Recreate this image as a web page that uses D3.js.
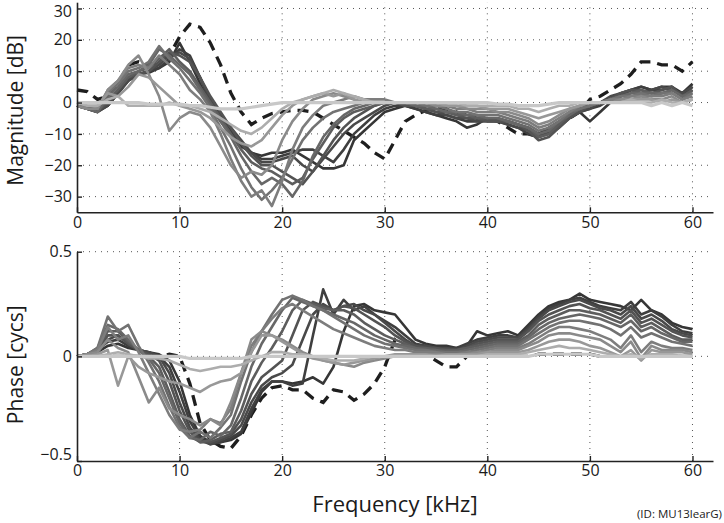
<!DOCTYPE html>
<html><head><meta charset="utf-8">
<script src="https://cdn.jsdelivr.net/npm/d3@7"></script>
<style>
body{margin:0;background:#fff;}
svg{display:block;}
text{font-family:"Open Sans",sans-serif;fill:#1a1a1a;}
</style>
</head><body>
<svg id="c" width="724" height="523"></svg>
<script>
// ---------- DATA ----------
const freqKHz = [0,1,2,3,4,5,6,7,8,9,10,11,12,13,14,15,16,17,18,19,20,21,22,23,24,25,26,27,28,29,30,
  31,32,33,34,35,36,37,38,39,40,41,42,43,44,45,46,47,48,49,50,51,52,53,54,55,56,57,58,59,60];
const freqTicks = [0,10,20,30,40,50,60];
const magTicks = [-30,-20,-10,0,10,20,30];
const phaseTicks = [-0.5,0,0.5];

// Magnitude [dB], gray family from darkest to lightest
const magGray = [
 [-1,-1.5,-2.5,-1,3,7,9,9.5,11,13,19, 13,6,-1,-6,-10,-14,-16,-17,-16,-16, -15,-17,-19,-21,-21,-20,-12,-9,-6,-3, -2,-1,-2,-3,-4,-5,-6,-8,-7,-5, -5,-6,-7,-8,-10,-8,-6,-4,-3,-6, -3,0,2,4,5,4,5,5,3,6],
 [-1,-2,-3,-1,3,7,9,10,11,14,17, 15,8,0,-5,-9,-13,-16,-18,-18,-17, -16,-15,-15,-17,-19,-15,-10,-7,-4,-2, -1,-1,-2,-3,-4,-4,-5,-6,-6,-5, -6,-7,-8,-10,-11,-9,-7,-5,-3,-2, -1,1,3,4,5,4,4,5,2,5],
 [-1,-2,-3,-1,3,7,9,10,12,15,16, 14,8,1,-4,-8,-12,-16,-19,-19,-18, -17,-20,-22,-18,-14,-10,-7,-5,-3,-1, 0,-1,-1,-2,-3,-4,-5,-5,-6,-6, -6,-7,-8,-9,-11,-10,-8,-5,-3,-2, 0,2,3,4,3,4,5,4,3,5],
 [-1,-2,-3,0,4,8,9,10,13,16,15, 13,8,2,-3,-8,-13,-17,-20,-20,-22, -24,-26,-22,-17,-12,-8,-5,-3,-1,0, 0,-1,-1,-2,-3,-3,-4,-5,-5,-6, -6,-6,-7,-9,-12,-11,-8,-5,-3,-1, 0,1,3,4,4,3,4,5,2,4],
 [-1,-2,-3,1,4,8,10,11,14,17,13, 10,5,0,-5,-10,-15,-19,-21,-22,-24, -26,-24,-18,-13,-8,-5,-3,-2,-1,0, 0,0,-1,-2,-2,-3,-4,-4,-5,-5, -5,-6,-7,-8,-11,-10,-7,-4,-2,-1, 0,1,2,3,4,3,3,4,2,4],
 [-1,-2,-3,2,5,9,10,12,17,15,12, 9,4,-1,-6,-11,-17,-22,-26,-24,-26, -30,-25,-17,-11,-7,-4,-2,-1,0,0, 0,0,-1,-1,-2,-3,-3,-4,-4,-5, -5,-6,-7,-8,-10,-9,-6,-4,-2,-1, 0,1,2,3,3,3,3,4,2,3],
 [-1,-2,-2,3,6,10,11,13,18,14,11, 7,3,-2,-8,-14,-21,-27,-31,-28,-24, -18,-12,-8,-5,-3,-2,-1,0,0,0, 0,0,0,-1,-1,-2,-3,-3,-4,-4, -4,-5,-6,-7,-9,-8,-6,-3,-2,-1, 0,1,2,2,3,2,3,3,1,3],
 [-1,-2,-2,4,7,11,12,11,15,12,9, 4,1,-3,-10,-18,-25,-30,-28,-33,-25, -15,-8,-4,-1,0,1,2,1,1,1, 0,0,0,0,-1,-1,-2,-2,-3,-3, -3,-4,-5,-6,-8,-7,-5,-3,-1,0, 0,1,1,2,2,2,2,3,1,2],
 [-1,-2,-2,4,7,12,15,9,2,-9,-5, -3,-4,-8,-14,-20,-24,-22,-23,-20,-12, -6,-2,1,2,3,2,1,0,0,0, 0,0,0,0,-1,-1,-1,-2,-2,-2, -3,-3,-4,-5,-7,-6,-4,-2,-1,0, 0,0,1,1,2,1,1,2,0,1],
 [0,-1,-1,3,2,5,9,8,5,2,-1, -2,-3,-5,-8,-11,-13,-14,-12,-8,-4, -1,1,2,3,2,3,1,0,0,0, 0,0,0,0,0,-1,-1,-1,-1,-2, -2,-2,-3,-4,-5,-4,-3,-2,-1,0, 0,0,0,1,1,1,0,1,0,1],
 [0,-1,-1,1,2,-1,-1,-1,-1,0,-1, -1,-2,-3,-5,-7,-9,-10,-8,-5,-2, 0,1,2,3,4,3,2,1,0,0, 0,0,0,0,0,0,0,-1,-1,-1, -1,-1,-2,-2,-3,-2,-1,-1,0,0, 0,0,0,1,0,0,1,0,0,1],
 [0,0,0,0,0,0,0,-0.5,-0.5,-0.5,-0.5, -1,-1,-1.5,-2,-2,-2,-1.5,-1,-0.5,0, 0,0,0,0,0,0,0,0,0,0, 0,0,0,0,0,0,0,0,0,0, -0.5,-0.5,-1,-1,-1,-0.5,0,0,0,0, 0,0,0,0,0,-1,0,-1,0,-1]
];
const magDashed = [4,3.5,1,2,6,12,13,12,13,15,21, 25,24,19,12,3,-3,-7,-5,-3.5,-3, -2.5,-2.5,-3,-5,-7,-9,-11,-13,-16,-18, -12,-6,-4,-2.5,-2,-2,-3,-4,-5,-5, -6,-8,-10,-10,-11,-9,-7,-5,-3,1, 2,4,6,9,13,13,12,12,10,13];

// Phase [cycles], same family
const phaseGray = [
 [0,0.01,0.02,0.05,0.06,0.04,0.03,0.02,0.01,-0.02,-0.12, -0.28,-0.38,-0.41,-0.41,-0.4,-0.37,-0.27,-0.17,-0.12,-0.12, -0.13,-0.12,-0.1,-0.13,-0.05,0.12,0.24,0.25,0.22,0.21, 0.2,0.14,0.08,0.06,0.05,0.05,0.04,0.05,0.12,0.1, 0.11,0.12,0.1,0.15,0.2,0.24,0.26,0.27,0.3,0.27, 0.26,0.25,0.24,0.22,0.27,0.22,0.2,0.16,0.14,0.13],
 [0,0.01,0.03,0.07,0.08,0.05,0.03,0.02,0,-0.05,-0.17, -0.31,-0.39,-0.42,-0.41,-0.39,-0.36,-0.25,-0.16,-0.12,-0.12, -0.14,-0.13,0.1,0.32,0.2,0.27,0.22,0.24,0.2,0.17, 0.14,0.1,0.06,0.05,0.04,0.04,0.04,0.06,0.08,0.09, 0.1,0.1,0.09,0.14,0.19,0.23,0.25,0.27,0.28,0.26, 0.24,0.23,0.22,0.26,0.2,0.22,0.19,0.15,0.12,0.11],
 [0,0.01,0.03,0.08,0.1,0.06,0.03,0.02,0,-0.08,-0.22, -0.34,-0.4,-0.42,-0.4,-0.38,-0.33,-0.22,-0.14,-0.1,-0.08, -0.04,0.08,0.2,0.25,0.22,0.24,0.25,0.22,0.2,0.16, 0.12,0.08,0.05,0.05,0.04,0.04,0.03,0.05,0.07,0.08, 0.09,0.09,0.09,0.13,0.18,0.22,0.24,0.26,0.27,0.25, 0.23,0.22,0.2,0.24,0.18,0.2,0.17,0.13,0.11,0.1],
 [0,0.01,0.03,0.1,0.1,0.06,0.03,0.01,-0.02,-0.12,-0.26, -0.36,-0.41,-0.41,-0.39,-0.37,-0.3,-0.18,-0.1,-0.06,-0.02, 0.1,0.22,0.26,0.24,0.22,0.24,0.23,0.2,0.17,0.14, 0.1,0.07,0.05,0.04,0.04,0.03,0.03,0.04,0.06,0.07, 0.08,0.08,0.08,0.12,0.17,0.2,0.22,0.24,0.25,0.23, 0.22,0.2,0.18,0.22,0.16,0.18,0.15,0.12,0.1,0.09],
 [0,0.01,0.03,0.12,0.12,0.07,0.03,0,-0.05,-0.17,-0.3, -0.38,-0.41,-0.4,-0.37,-0.36,-0.26,-0.12,-0.03,0.04,0.12, 0.22,0.27,0.25,0.23,0.22,0.22,0.2,0.16,0.13,0.1, 0.08,0.06,0.04,0.04,0.03,0.03,0.03,0.04,0.05,0.06, 0.07,0.07,0.07,0.1,0.15,0.18,0.2,0.22,0.22,0.21, 0.2,0.18,0.16,0.2,0.14,0.16,0.13,0.1,0.08,0.08],
 [0,0.01,0.04,0.15,0.13,0.08,0.03,-0.01,-0.08,-0.2,-0.32, -0.39,-0.4,-0.36,-0.38,-0.33,-0.2,-0.05,0.06,0.14,0.22, 0.28,0.26,0.24,0.22,0.2,0.18,0.16,0.13,0.1,0.08, 0.06,0.05,0.04,0.03,0.03,0.02,0.02,0.03,0.04,0.05, 0.06,0.06,0.06,0.09,0.13,0.16,0.18,0.19,0.2,0.19, 0.18,0.16,0.14,0.17,0.12,0.14,0.11,0.09,0.07,0.07],
 [0,0.01,0.04,0.19,0.12,0.15,0.05,-0.03,-0.12,-0.24,-0.34, -0.39,-0.36,-0.39,-0.34,-0.28,-0.12,0.02,0.12,0.2,0.27, 0.29,0.27,0.24,0.22,0.19,0.16,0.13,0.1,0.08,0.06, 0.05,0.04,0.03,0.03,0.02,0.02,0.02,0.02,0.03,0.04, 0.05,0.05,0.05,0.08,0.11,0.14,0.16,0.17,0.17,0.16, 0.15,0.13,0.1,0.14,0.09,0.11,0.09,0.07,0.06,0.05],
 [0,0.01,0.03,0.14,0.08,0.1,0.02,-0.08,-0.18,-0.28,-0.35, -0.36,-0.35,-0.3,-0.32,-0.25,-0.08,0.05,0.12,0.18,0.23, 0.25,0.22,0.19,0.16,0.13,0.11,0.09,0.07,0.05,0.04, 0.03,0.03,0.02,0.02,0.02,0.01,0.01,0.02,0.02,0.03, 0.04,0.04,0.04,0.06,0.09,0.12,0.14,0.14,0.13,0.12, 0.1,0.08,0.04,0.1,0.02,0.07,0.05,0.04,0.04,0.03],
 [0,0.01,0.02,0.08,0.04,0.02,-0.1,-0.22,-0.15,-0.25,-0.28, -0.3,-0.33,-0.3,-0.33,-0.22,-0.08,0.08,0.12,0.1,0.08, 0.05,0.02,0,-0.02,-0.03,-0.04,-0.05,-0.03,-0.02,-0.01, 0,0.01,0.01,0.01,0.01,0.01,0.01,0.01,0.02,0.02, 0.03,0.03,0.03,0.05,0.07,0.1,0.11,0.11,0.1,0.09, 0.08,0.05,0.02,0.07,-0.01,0.05,0.03,0.03,0.03,0.02],
 [0,0,0.01,0.03,-0.14,0,-0.05,-0.08,-0.1,-0.12,-0.13, -0.15,-0.17,-0.14,-0.12,-0.11,-0.08,0.02,0.1,0.1,0.07, 0.04,0.01,-0.01,-0.02,-0.03,-0.04,-0.03,-0.02,-0.01,0, 0.01,0.01,0.01,0.01,0,0.01,0.01,0.01,0.01,0.02, 0.02,0.02,0.02,0.03,0.05,0.07,0.08,0.08,0.07,0.05, 0.04,0.02,0,0.03,-0.02,0.03,0.02,0.02,0.02,0.01],
 [0,0,0,0.01,0.02,0.01,0,-0.01,-0.01,-0.02,-0.04, -0.06,-0.07,-0.06,-0.05,-0.05,-0.04,-0.02,0,0.02,0.02, 0.01,0.01,0,-0.01,-0.02,-0.02,-0.02,-0.01,0,0, 0,0,0,0,0,0,0,0,0,0.01, 0.01,0.01,0.01,0.02,0.03,0.04,0.05,0.04,0.04,0.03, 0.02,0.01,0,0.01,-0.01,0.01,0.01,0.01,0,0],
 [0,0,0,0,0,0,0,0,0,0,0, -0.01,-0.01,-0.01,-0.01,-0.01,-0.01,0,0,0,0, 0,0,0,0,0,0,0,0,0,0, 0,0,0,0,0,0,0,0,0,0, 0,0,0,0,0.01,0.01,0.01,0.01,0.01,0.01, 0,0,0,0,0,0,0,0,0,0]
];
const phaseDashed = [0,0,0,0,0,0,0,0,0,0.01,0, -0.13,-0.32,-0.4,-0.43,-0.44,-0.38,-0.28,-0.2,-0.15,-0.14, -0.16,-0.16,-0.2,-0.22,-0.16,-0.17,-0.21,-0.18,-0.13,-0.05, 0.08,0.05,0.03,0.01,-0.02,-0.05,-0.05,0,0,0, 0,0,0,0,0.01,0.01,0.01,0.01,0.01,0.01, 0,0,0,0,0,0,0,0,0,0];

// ---------- STYLE ----------
const grayColors = ["#363636","#3f3f3f","#494949","#535353","#5d5d5d","#676767","#727272","#7d7d7d","#8a8a8a","#989898","#adadad","#c8c8c8"];

const svg = d3.select('#c');
const x = d3.scaleLinear().domain([0,62]).range([77,713]);
const yMag = d3.scaleLinear().domain([-35,32]).range([212.3,2.2]);
const yPh = d3.scaleLinear().domain([-0.5,0.5]).range([461,251.7]);

function drawPanel(y, ticks, grays, dashed, fmt, yTopVal) {
  const g = svg.append('g');
  const y0 = y.range()[0], y1 = y(yTopVal);
  // grid
  g.selectAll(null).data(ticks.filter(t => t > y.domain()[0])).enter().append('line')
    .attr('x1', x(0)).attr('x2', x(62)).attr('y1', d => y(d)).attr('y2', d => y(d))
    .attr('stroke', '#555').attr('stroke-width', 1).attr('stroke-dasharray', '1,5');
  g.selectAll(null).data(freqTicks.filter(t => t > 0)).enter().append('line')
    .attr('x1', d => x(d)).attr('x2', d => x(d)).attr('y1', y0).attr('y2', y1)
    .attr('stroke', '#555').attr('stroke-width', 1).attr('stroke-dasharray', '1,5');

  const line = d3.line().x((d, i) => x(freqKHz[i])).y(d => y(d)).curve(d3.curveLinear);
  g.append('path').datum(dashed).attr('d', line)
    .attr('fill', 'none').attr('stroke', '#1e1e1e').attr('stroke-width', 3.3)
    .attr('stroke-dasharray', '11,7');
  grays.forEach((s, k) => {
    g.append('path').datum(s).attr('d', line)
      .attr('fill', 'none').attr('stroke', grayColors[k])
      .attr('stroke-width', k === grays.length - 1 ? 3.2 : 2.6)
      .attr('stroke-linejoin', 'round');
  });

  // axes
  const ax = g.append('g').attr('transform', `translate(${x(0)},0)`)
    .call(d3.axisLeft(y).tickValues(ticks).tickSizeInner(-5).tickSizeOuter(0).tickPadding(5).tickFormat(fmt));
  const bx = g.append('g').attr('transform', `translate(0,${y0})`)
    .call(d3.axisBottom(x).tickValues(freqTicks).tickSizeInner(-5).tickSizeOuter(0).tickPadding(4));
  [ax, bx].forEach(a => {
    a.select('.domain').attr('stroke', '#222').attr('stroke-width', 1.6);
    a.selectAll('.tick line').attr('stroke', '#222').attr('stroke-width', 1.4);
    a.selectAll('.tick text').style('font-family', '"Open Sans",sans-serif').style('font-size', '16px').attr('fill', '#1a1a1a');
  });
  return ax;
}

const minusFmt = d => (d < 0 ? '\u2212' : '') + Math.abs(d);
const magAx = drawPanel(yMag, magTicks, magGray, magDashed, minusFmt, 32);
magAx.selectAll('.tick text').filter(d => d === 30).attr('dy', '0.52em');
const phAx = drawPanel(yPh, phaseTicks, phaseGray, phaseDashed, minusFmt, 0.5);
phAx.selectAll('.tick text').filter(d => d === -0.5).attr('dy', '-0.1em');

// axis titles
svg.append('text').attr('transform', `translate(23,${yMag(-2.5)}) rotate(-90)`)
  .attr('text-anchor', 'middle').style('font-size', '21px').text('Magnitude [dB]');
svg.append('text').attr('transform', `translate(23,${yPh(-0.04)}) rotate(-90)`)
  .attr('text-anchor', 'middle').style('font-size', '21px').text('Phase [cycs]');
svg.append('text').attr('x', x(31)).attr('y', 512)
  .attr('text-anchor', 'middle').style('font-size', '22px').text('Frequency [kHz]');
svg.append('text').attr('x', 722).attr('y', 518)
  .attr('text-anchor', 'end').style('font-size', '11.5px').text('(ID: MU13learG)');
</script>
</body></html>
